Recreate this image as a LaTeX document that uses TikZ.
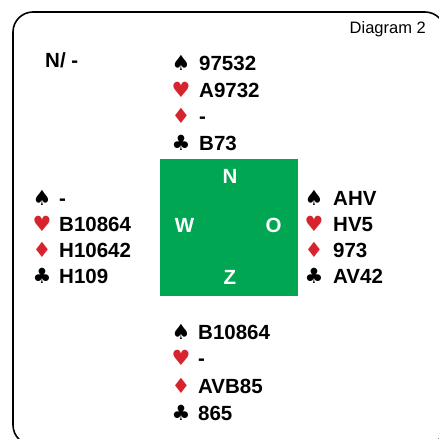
\documentclass[tikz,border=0pt]{standalone}
\usepackage{fontspec}
\setmainfont{Liberation Sans}
\newfontfamily\suitfont{DejaVu Sans}
\usepackage{tikz}
\usetikzlibrary{positioning}

\definecolor{suitred}{RGB}{215,35,45}
\definecolor{tablegreen}{RGB}{0,166,81}

\newcommand{\spd}{♠}
\newcommand{\hrt}{\textcolor{suitred}{♥}}
\newcommand{\dia}{\textcolor{suitred}{♦}}
\newcommand{\clb}{♣}

\tikzset{
	cards/.style={anchor=base west,inner sep=0pt,font=\fontsize{20.5}{24}\selectfont\bfseries},
	suit/.style={anchor=base,inner sep=0pt,font=\suitfont\fontsize{21}{24}\selectfont},
	wind/.style={anchor=base,inner sep=0pt,text=white,font=\fontsize{20.5}{24}\selectfont\bfseries}
}

\begin{document}
\begin{tikzpicture}[x=1pt,y=-1pt]

	\useasboundingbox (0,0) rectangle (439,439);
	\clip (0,0) rectangle (439,439);
	\draw[line width=1.6pt,rounded corners=20pt] (13,12) rectangle (445,445); %frame

	\node[anchor=base east,inner sep=0pt,font=\fontsize{16.5}{20}\selectfont] (title) at (426,33) {Diagram 2};
	\node[cards] (vuln) at (45,67) {N/ -};

	\fill[tablegreen] (160,159) rectangle (298,296); %table
	\node[wind] (north) at (230,183) {N};
	\node[wind] (west) at (184.5,232) {W};
	\node[wind] (east) at (273.5,232) {O};
	\node[wind] (south) at (230,284) {Z};

	% North
	\node[suit] (ns) at (181,70) {\spd};
	\node[cards] (nsc) at (199,70) {97532};
	\node[suit] (nh) at (181,97) {\hrt};
	\node[cards] (nhc) at (199,97) {A9732};
	\node[suit] (nd) at (181,123) {\dia};
	\node[cards] (ndc) at (199,123) {-};
	\node[suit] (nc) at (181,150) {\clb};
	\node[cards] (ncc) at (199,150) {B73};

	% West
	\node[suit] (ws) at (42,205) {\spd};
	\node[cards] (wsc) at (59,205) {-};
	\node[suit] (wh) at (42,231) {\hrt};
	\node[cards] (whc) at (59,231) {B10864};
	\node[suit] (wd) at (42,257) {\dia};
	\node[cards] (wdc) at (59,257) {H10642};
	\node[suit] (wc) at (42,283) {\clb};
	\node[cards] (wcc) at (59,283) {H109};

	% East
	\node[suit] (es) at (314,205) {\spd};
	\node[cards] (esc) at (333,205) {AHV};
	\node[suit] (eh) at (314,231) {\hrt};
	\node[cards] (ehc) at (333,231) {HV5};
	\node[suit] (ed) at (314,257) {\dia};
	\node[cards] (edc) at (333,257) {973};
	\node[suit] (ec) at (314,283) {\clb};
	\node[cards] (ecc) at (333,283) {AV42};

	% South
	\node[suit] (ss) at (181,339) {\spd};
	\node[cards] (ssc) at (198,339) {B10864};
	\node[suit] (sh) at (181,365) {\hrt};
	\node[cards] (shc) at (198,365) {-};
	\node[suit] (sd) at (181,393) {\dia};
	\node[cards] (sdc) at (198,393) {AVB85};
	\node[suit] (sc) at (181,420) {\clb};
	\node[cards] (scc) at (198,420) {865};

\end{tikzpicture}
\end{document}
